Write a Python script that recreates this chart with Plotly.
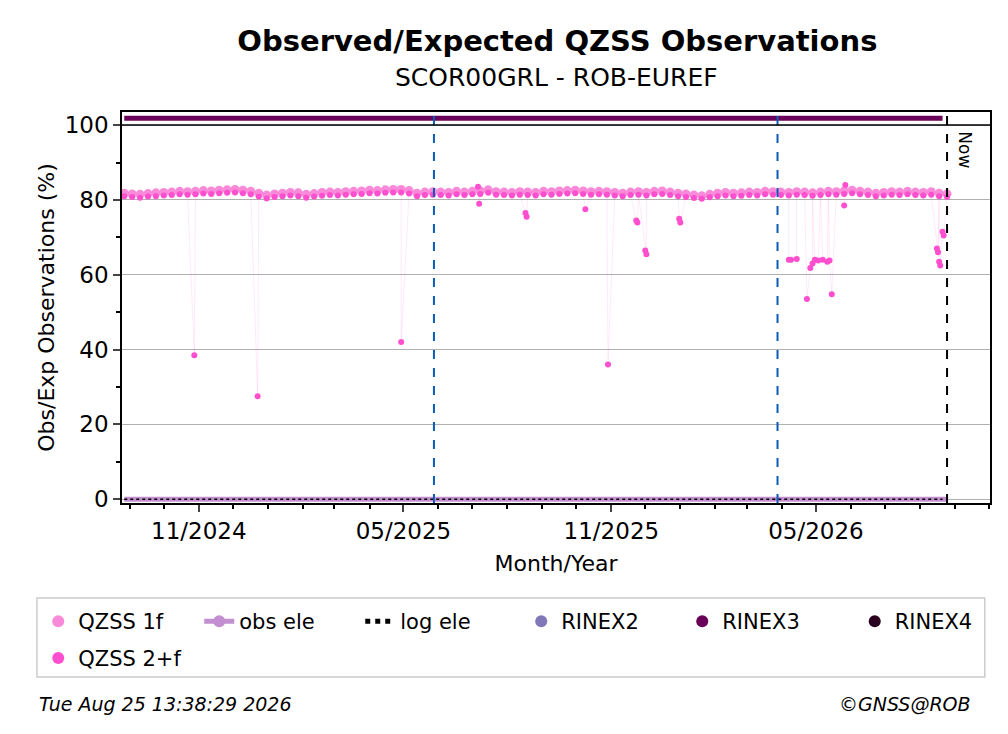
import pandas as pd
import plotly.graph_objects as go

# weekly baseline values (starting 2024-08-27)
start_date = "2024-08-27"
qzss_2f = [81.0, 80.8, 80.6, 80.9, 81.0,
           81.2, 81.3, 81.5, 81.4,
           81.5, 81.7, 81.6, 81.8, 81.9,
           82.0, 81.8, 81.5, 80.9,
           80.4, 80.8, 81.0, 81.2,
           81.0, 80.6, 80.9, 81.1,
           81.3, 81.2, 81.4, 81.5,
           81.6, 81.8, 81.7, 81.9,
           82.0, 82.0, 81.7, 81.0, 81.3,
           81.4, 81.3, 81.2, 81.5,
           81.3, 81.5, 81.6, 81.9,
           81.4, 81.3, 81.2, 81.4,
           81.3, 81.2, 81.5, 81.4, 81.6,
           81.7, 81.8, 81.6, 81.4,
           81.5, 81.4, 81.2, 81.0,
           81.3, 81.4, 81.2, 81.5, 81.6,
           81.3, 81.0, 80.8, 80.5,
           80.3, 80.7, 81.0, 81.2,
           81.0, 81.1, 81.3, 81.2,
           81.5, 81.4, 81.3, 81.2, 81.4,
           81.3, 81.1, 81.3, 81.5,
           81.4, 81.6, 81.8, 81.5,
           81.3, 81.0, 81.2, 81.4, 81.3,
           81.5, 81.3, 81.2, 81.4, 81.0, 80.8]
qzss_1f = [81.8, 81.6, 81.5, 81.7, 81.9,
           82.0, 82.1, 82.3, 82.2,
           82.3, 82.5, 82.4, 82.6, 82.7,
           82.8, 82.6, 82.3, 81.8,
           81.3, 81.6, 81.8, 82.0,
           81.9, 81.5, 81.7, 82.0,
           82.1, 82.0, 82.2, 82.3,
           82.4, 82.6, 82.5, 82.7,
           82.8, 82.8, 82.5, 81.8, 82.1,
           82.2, 82.1, 82.0, 82.3,
           82.1, 82.3, 82.4, 82.7,
           82.2, 82.1, 82.0, 82.2,
           82.1, 82.0, 82.3, 82.2, 82.4,
           82.5, 82.6, 82.4, 82.2,
           82.3, 82.2, 82.0, 81.8,
           82.1, 82.2, 82.0, 82.3, 82.4,
           82.1, 81.8, 81.6, 81.3,
           81.1, 81.5, 81.8, 82.0,
           81.8, 81.9, 82.1, 82.0,
           82.3, 82.2, 82.1, 82.0, 82.2,
           82.1, 81.9, 82.1, 82.3,
           82.2, 82.4, 82.6, 82.3,
           82.1, 81.8, 82.0, 82.2, 82.1,
           82.3, 82.1, 82.0, 82.2, 81.8, 81.6]

out_dates = ["2024-10-28", "2024-12-23", "2025-04-29", "2025-07-06", "2025-07-07",
             "2025-08-17", "2025-08-18", "2025-10-09", "2025-10-29", "2025-11-23",
             "2025-11-24", "2025-12-01", "2025-12-02", "2025-12-31", "2026-01-01",
             "2026-04-07", "2026-04-09", "2026-04-14", "2026-04-23", "2026-04-26",
             "2026-04-28", "2026-04-30", "2026-05-03", "2026-05-07", "2026-05-11",
             "2026-05-13", "2026-05-15", "2026-05-26", "2026-05-27",
             "2026-08-16", "2026-08-17", "2026-08-18", "2026-08-19",
             "2026-08-21", "2026-08-22"]
out_values = [38.5, 27.5, 42.0, 83.5, 79.0,
              76.5, 75.5, 77.5, 36.0, 74.5,
              74.0, 66.5, 65.5, 75.0, 74.0,
              64.0, 64.0, 64.2, 53.5, 61.8,
              63.0, 64.0, 63.8, 64.0, 63.5,
              63.8, 54.8, 78.5, 84.0,
              67.0, 66.0, 63.5, 62.5,
              71.5, 70.5]

rinex3_start, rinex3_end, rinex3_level = "2024-08-27", "2026-08-21", 101.8
now_date = "2026-08-25"
release_dates = ["2025-05-28", "2026-03-28"]
x_range = ["2024-08-25", "2026-10-02"]
tick_vals = ["2024-11-01", "2025-05-01", "2025-11-01", "2026-05-01"]
tick_text = ["11/2024", "05/2025", "11/2025", "05/2026"]

weeks = pd.date_range(start_date, periods=len(qzss_2f), freq="7D")
base2 = pd.Series(qzss_2f, index=weeks)
base1 = pd.Series(qzss_1f, index=weeks)
outs = pd.Series(out_values, index=pd.to_datetime(out_dates))
s2 = pd.concat([base2, outs]).sort_index()

C1, C2 = "#f98ad9", "#ff4fcf"
fig = go.Figure()
fig.add_trace(go.Scatter(x=s2.index, y=s2.values, mode="lines", showlegend=False,
                         line=dict(color="rgba(255,79,207,0.12)", width=1)))
fig.add_trace(go.Scatter(x=base1.index, y=base1.values, mode="markers", name="QZSS 1f",
                         marker=dict(color=C1, size=9), legendrank=1))
fig.add_trace(go.Scatter(x=s2.index, y=s2.values, mode="markers", name="QZSS 2+f",
                         marker=dict(color=C2, size=6), legend="legend2"))
fig.add_trace(go.Scatter(x=[weeks[0], weeks[-1]], y=[0, 0], mode="lines+markers", name="obs ele",
                         line=dict(color="#c38fd0", width=5), marker=dict(size=1, color="#c38fd0"),
                         legendrank=2))
fig.add_trace(go.Scatter(x=[rinex3_start, rinex3_end], y=[0, 0], mode="lines", name="log ele",
                         line=dict(color="black", width=1.5, dash="dot"), legendrank=3))
fig.add_trace(go.Scatter(x=[None], y=[None], mode="markers", name="RINEX2",
                         marker=dict(color="#7f77b8", size=6), legendrank=4))
fig.add_trace(go.Scatter(x=[rinex3_start, rinex3_end], y=[rinex3_level] * 2, mode="lines",
                         showlegend=False, line=dict(color="#6a0057", width=5)))
fig.add_trace(go.Scatter(x=[None], y=[None], mode="markers", name="RINEX3",
                         marker=dict(color="#6a0057", size=6), legendrank=5))
fig.add_trace(go.Scatter(x=[None], y=[None], mode="markers", name="RINEX4",
                         marker=dict(color="#2a0020", size=6), legend="legend3"))

for d in release_dates:
    fig.add_shape(type="line", x0=d, x1=d, y0=0, y1=1, yref="paper",
                  line=dict(color="#0a5cb8", width=2, dash="dash"))
fig.add_shape(type="line", x0=now_date, x1=now_date, y0=0, y1=1, yref="paper",
              line=dict(color="black", width=2, dash="dash"))
fig.add_shape(type="line", x0=0, x1=1, xref="paper", y0=100, y1=100,
              line=dict(color="black", width=1.5))
# legend frame
fig.add_shape(type="rect", xref="paper", yref="paper", x0=-0.098, x1=0.994, y0=-0.445, y1=-0.243,
              line=dict(color="#cccccc", width=1.5), layer="below")
fig.add_annotation(x=now_date, y=99, xanchor="left", yanchor="top", xshift=6, text="Now",
                   textangle=90, showarrow=False, font=dict(size=17, color="black"))

F = "DejaVu Sans"
leg_common = dict(orientation="h", xref="container", yref="container", xanchor="left",
                  yanchor="top", entrywidth=116, font=dict(size=21), itemsizing="constant",
                  itemwidth=30, bgcolor="rgba(0,0,0,0)")
fig.update_layout(
    width=1008, height=734, plot_bgcolor="white", paper_bgcolor="white",
    font=dict(family=F, size=22, color="black"),
    margin=dict(l=114, r=26, t=104, b=239),
    title=dict(text="<b>Observed/Expected QZSS Observations</b>", x=0.545, xanchor="center",
               y=0.955, yanchor="middle", font=dict(size=29)),
    xaxis=dict(range=x_range, tickvals=tick_vals, ticktext=tick_text, ticks="outside",
               ticklen=7, tickwidth=1.5, showgrid=False, showline=True, linecolor="black",
               linewidth=1.5, mirror=True, zeroline=False, tickfont=dict(size=23),
               minor=dict(dtick="M1", tick0="2024-09-01", ticks="outside", ticklen=4,
                          tickcolor="black", showgrid=False),
               title=dict(text="Month/Year", standoff=12, font=dict(size=22))),
    yaxis=dict(range=[-1, 103.5], tickvals=[0, 20, 40, 60, 80, 100], ticks="outside",
               ticklen=7, tickwidth=1.5, showgrid=True, gridcolor="#b0b0b0", gridwidth=1,
               showline=True, linecolor="black", linewidth=1.5, mirror=True, zeroline=False,
               tickfont=dict(size=23),
               minor=dict(dtick=10, ticks="outside", ticklen=4, tickcolor="black", showgrid=False),
               title=dict(text="Obs/Exp Observations (%)", standoff=4, font=dict(size=22))),
    legend=dict(x=0.03, y=0.192, **leg_common),
    legend2=dict(x=0.03, y=0.142, **leg_common),
    legend3=dict(x=0.84, y=0.192, **leg_common),
    showlegend=True,
)
fig.add_annotation(x=0.5, y=1.087, xref="paper", yref="paper", xanchor="center", showarrow=False,
                   yanchor="middle", text="SCOR00GRL - ROB-EUREF", font=dict(size=25))
fig.add_annotation(xref="paper", yref="paper", x=-0.098, y=-0.514, xanchor="left", showarrow=False,
                   yanchor="middle", text="<i>Tue Aug 25 13:38:29 2026</i>", font=dict(size=19))
fig.add_annotation(xref="paper", yref="paper", x=0.98, y=-0.514, xanchor="right", showarrow=False,
                   yanchor="middle", text="<i>©GNSS@ROB</i>", font=dict(size=19))
fig.write_html("out.html")
